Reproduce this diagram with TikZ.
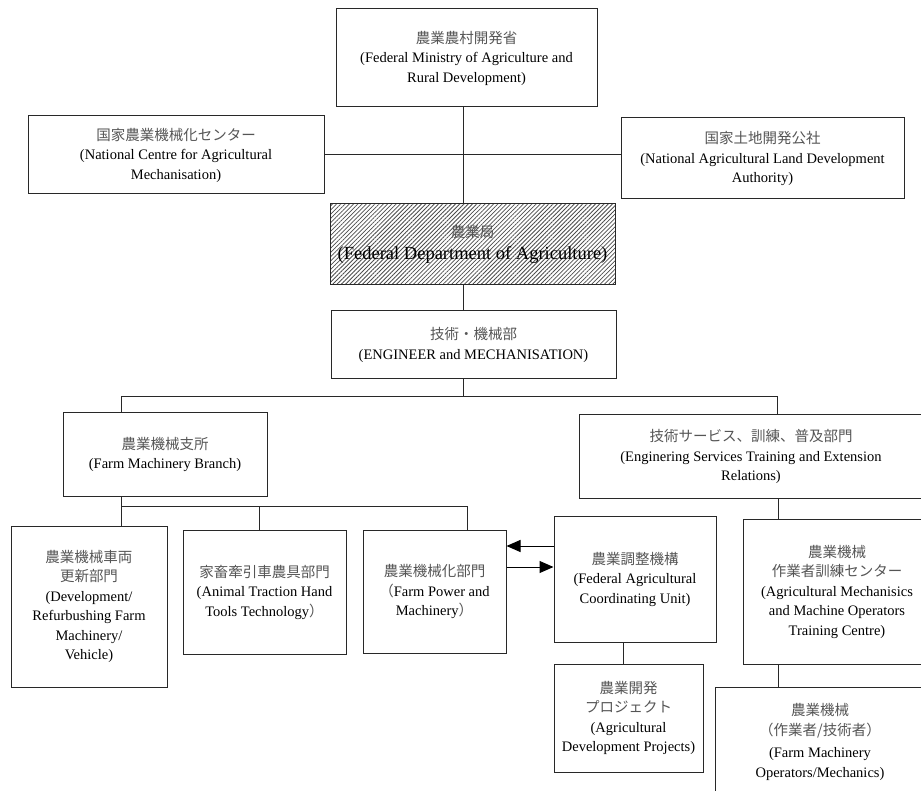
\documentclass[tikz,border=0pt]{standalone}
\usepackage{fontspec}
\setmainfont{Liberation Serif}
\newfontfamily\jpfont{Noto Sans CJK JP}
\usepackage{tikz}
\usetikzlibrary{arrows.meta, patterns.meta, calc}
\usepackage{xcolor}
\definecolor{jpgray}{RGB}{85,85,85}
\definecolor{linegray}{RGB}{40,40,40}
\newcommand{\jp}[1]{{\jpfont\color{jpgray}#1}}
\tikzset{
  orgbox/.style={
    rectangle, draw=linegray, line width=1pt,
    align=center, inner sep=2pt,
    font=\fontsize{14.5}{19.5}\selectfont
  },
  hatchbox/.style={
    orgbox,
    pattern={Lines[angle=45, distance=3pt, line width=0.8pt]},
    pattern color=black!70
  },
  link/.style={line width=1pt, color=linegray},
  arrow/.style={-{Triangle[length=14pt, width=12pt]}, line width=1pt, color=black},
}

\begin{document}
\begin{tikzpicture}[x=1pt, y=-1pt]
  \useasboundingbox (0,0) rectangle (921,791);
  \clip (0,0) rectangle (921,791);

  \node[orgbox, minimum width=261pt, minimum height=98pt] (ministry) at (466.5,58)
    {\jp{農業農村開発省}\\(Federal Ministry of Agriculture and\\Rural Development)};
  \node[orgbox, minimum width=296pt, minimum height=78pt] (ncam) at (176,155)
    {\jp{国家農業機械化センター}\\(National Centre for Agricultural\\Mechanisation)};
  \node[orgbox, minimum width=283pt, minimum height=81pt] (nalda) at (762.5,158.5)
    {\jp{国家土地開発公社}\\(National Agricultural Land Development\\Authority)};
  \node[hatchbox, minimum width=285pt, minimum height=81pt] (fda) at (472.5,244.5)
    {\jp{農業局}\\[3pt]{\fontsize{18.5}{22}\selectfont (Federal Department of Agriculture)}};
  \node[orgbox, minimum width=285pt, minimum height=68pt] (eng) at (473.5,345)
    {\jp{技術・機械部}\\(ENGINEER and MECHANISATION)};

  \node[orgbox, minimum width=204pt, minimum height=83pt] (fmb) at (165,454.5)
    {\jp{農業機械支所}\\(Farm Machinery Branch)};
  \node[orgbox, minimum width=344pt, minimum height=83pt] (esvc) at (751,456.5)
    {\jp{技術サービス、訓練、普及部門}\\(Enginering Services Training and Extension\\Relations)};

  \node[orgbox, minimum width=156pt, minimum height=161pt] (dev) at (89,606.5)
    {\jp{農業機械車両}\\\jp{更新部門}\\(Development/\\Refurbushing Farm\\Machinery/\\Vehicle)};
  \node[orgbox, minimum width=163pt, minimum height=124pt] (animal) at (264.5,592)
    {\jp{家畜牽引車農具部門}\\(Animal Traction Hand\\Tools Technology\jp{）}};
  \node[orgbox, minimum width=143pt, minimum height=123pt] (power) at (434.5,591.5)
    {\jp{農業機械化部門}\\\jp{（}Farm Power and\\Machinery\jp{）}};
  \node[orgbox, minimum width=162pt, minimum height=126pt] (coord) at (635,579)
    {\jp{農業調整機構}\\(Federal Agricultural\\Coordinating Unit)};
  \node[orgbox, minimum width=149pt, minimum height=108pt] (agridev) at (628.5,718)
    {\jp{農業開発}\\\jp{プロジェクト}\\(Agricultural\\Development Projects)};
  \node[orgbox, minimum width=188pt, minimum height=145pt] (train) at (837,591.5)
    {\jp{農業機械}\\\jp{作業者訓練センター}\\(Agricultural Mechanisics\\and Machine Operators\\Training Centre)};
  \node[orgbox, minimum width=210pt, minimum height=110pt] (oper) at (820,742)
    {\jp{農業機械}\\\jp{（作業者/技術者）}\\[3pt](Farm Machinery\\Operators/Mechanics)};

  \coordinate (spine) at (463,0);
  \coordinate (busA) at (121,397);
  \coordinate (busB) at (777,397);
  \coordinate (busC) at (121,506);
  \coordinate (busD) at (467,506);
  \coordinate (animalDrop) at (259,506);
  \coordinate (coordDrop) at (623,0);
  \coordinate (trainDrop) at (778,0);

  \draw[link] (ministry.south -| spine) -- (fda.north -| spine);
  \draw[link] (ncam.east) -- (ncam.east -| nalda.west);
  \draw[link] (fda.south -| spine) -- (eng.north -| spine);
  \draw[link] (eng.south -| spine) -- (spine |- busA);
  \draw[link] (busA |- fmb.north) -- (busA) -- (busB) -- (busB |- esvc.north);
  \draw[link] (busA |- fmb.south) -- (busC);
  \draw[link] (busC |- dev.north) -- (busC) -- (busD) -- (busD |- power.north);
  \draw[link] (animalDrop) -- (animalDrop |- animal.north);
  \draw[link] (coordDrop |- coord.south) -- (coordDrop |- agridev.north);
  \draw[link] (trainDrop |- esvc.south) -- (trainDrop |- train.north);
  \draw[link] (trainDrop |- train.south) -- (trainDrop |- oper.north);

  \draw[arrow] ([yshift=33pt]coord.west) -- ([yshift=33pt]coord.west -| power.east);
  \draw[arrow] ([yshift=12pt]coord.west -| power.east) -- ([yshift=12pt]coord.west);
\end{tikzpicture}
\end{document}
